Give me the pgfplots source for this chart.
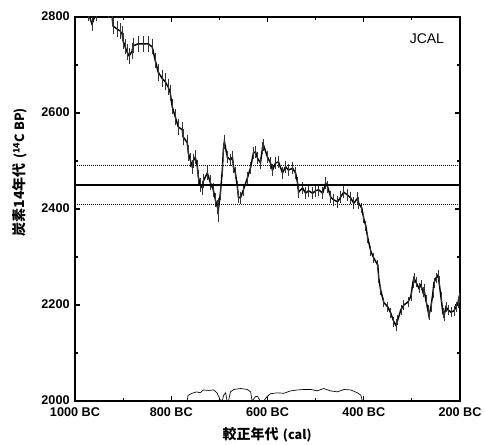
\documentclass[border=0pt]{standalone}
\usepackage{fontspec}
\setmainfont{Liberation Sans}
\newfontfamily\cjk{Noto Sans CJK JP}
\usepackage{pgfplots}
\pgfplotsset{compat=1.18}
\usepackage{pgfplotstable}
\usetikzlibrary{calc}

\pgfplotstableread{
x y e
1000 2830 18
972.9 2810 18
964.6 2785 14
956.3 2810 18
931.3 2815 18
922.9 2800 18
920.8 2781 16
912.5 2775 16
906.3 2771 16
902.1 2765 16
900 2750 16
895.8 2738 16
891.7 2727 16
887.5 2719 16
881.3 2729 16
879.2 2740 16
868.8 2744 16
858.3 2744 16
847.9 2744 16
839.6 2738 16
833.3 2710 16
827.1 2685 18
818.8 2672 18
812.5 2665 18
806.3 2654 16
802.1 2642 16
797.9 2613 16
791.7 2592 16
785.4 2571 16
777.1 2565 16
775 2550 16
766.7 2538 16
764.6 2517 16
760.4 2502 15
756.3 2488 15
754.2 2500 15
750 2508 15
745.8 2488 15
743.8 2467 15
739.6 2450 15
735.4 2444 15
733.3 2458 15
725 2475 15
718.8 2455 15
712.5 2440 15
708.3 2419 15
704.2 2404 15
702.1 2398 25
697.9 2433 15
693.8 2481 15
691.7 2523 15
689.6 2540 15
683.3 2508 12
677.1 2502 12
672.9 2508 12
670.8 2488 12
666.7 2475 12
662.5 2446 12
660.4 2425 12
656.3 2423 12
650 2440 12
641.7 2465 12
635.4 2485 12
629.2 2517 12
625 2519 12
620.8 2506 12
614.6 2496 12
610.4 2527 12
608.3 2533 12
600 2508 12
593.8 2496 12
589.6 2481 12
583.3 2496 12
577.1 2498 12
568.8 2475 12
562.5 2488 12
556.3 2481 12
547.9 2485 12
541.7 2475 12
537.5 2454 12
535.4 2435 12
527.1 2444 12
520.8 2433 12
514.6 2438 12
506.3 2433 12
500 2438 12
493.8 2440 12
485.4 2433 12
479.2 2454 12
475 2446 12
468.8 2425 12
462.5 2419 12
454.2 2415 12
447.9 2425 12
441.7 2435 12
433.3 2429 12
427.1 2423 12
420.8 2412 12
412.5 2423 12
410.4 2412 12
404.2 2402 10
400 2380 10
395.8 2365 10
391.7 2340 10
385.4 2312 10
379.2 2298 10
370.8 2283 10
368.8 2256 10
364.6 2230 10
358.3 2205 10
350 2196 10
343.8 2183 10
337.5 2165 10
333.3 2158 12
329.2 2169 10
322.9 2190 10
316.7 2200 10
308.3 2206 10
302.1 2218 10
297.9 2246 10
295.8 2256 10
291.7 2248 10
285.4 2235 10
281.3 2242 10
277.1 2227 10
275 2233 10
270.8 2210 10
266.7 2190 10
264.6 2178 10
260.4 2196 10
256.3 2225 10
254.2 2246 10
250 2256 10
245.8 2262 10
243.8 2250 10
239.6 2217 10
235.4 2183 10
233.3 2177 10
229.2 2196 10
225 2190 10
218.8 2185 10
212.5 2188 10
208.3 2196 10
204.2 2204 10
202.1 2215 10
200 2210 10
}\curve

\pgfplotstableread{
x v
767 0
765 12
757 16
747 19
740 17
733 23
722 22
712 23
705 17
698 2
694 0
691 12
687 17
684 0
681 0
677 19
670 24
656 26
642 24
635 19
632 0
625 9
621 10
615 0
608 0
601 9
594 15
580 17
566 16
552 21
538 23
524 24
510 24
497 21
483 26
469 21
455 19
441 24
427 23
413 17
406 12
403 0
}\prob

\begin{document}
\begin{tikzpicture}
\begin{axis}[
  name=ax,
  scale only axis,
  width=288.75pt, height=288pt,
  x dir=reverse,
  xmin=200, xmax=1000, ymin=2000, ymax=2800,
  xtick={1000,800,600,400,200},
  xticklabels={1000 BC,800 BC,600 BC,400 BC,200 BC},
  minor xtick={900,700,500,300},
  ytick={2000,2200,2400,2600,2800},
  minor ytick={2100,2300,2500,2700},
  tick align=inside,
  major tick length=3.75pt,
  minor tick length=2pt,
  every tick/.style={black, line width=0.8pt},
  axis line style={line width=1.1pt},
  /pgf/number format/assume math mode=true,
  /pgf/number format/1000 sep={},
  ticklabel style={font=\fontsize{9.5}{10}\selectfont\bfseries},
  xticklabel style={yshift=-1.5pt},
  yticklabel style={yshift=1pt, xshift=-0.5pt},
  xlabel={\cjk\bfseries 較正年代\,{\fontsize{9.5}{10}\selectfont\bfseries\,(cal)}},
  ylabel={\cjk\bfseries 炭素14年代\,{\fontsize{9.5}{10}\selectfont\bfseries\,(\textsuperscript{14}C BP)}},
  label style={font=\fontsize{10.5}{12}\selectfont},
  xlabel style={at={(rel axis cs:0.499,-0.0885)}, anchor=center},
  ylabel style={at={(rel axis cs:-0.143,0.596)}, anchor=center},
  clip=true,
]
% curve with error bars
\addplot[black, line width=1.1pt, mark=none,
  error bars/.cd, y dir=both, y explicit,
  error bar style={black!80, line width=0.5pt}, error mark=none]
  table[x=x, y=y, y error=e]{\curve};
% measured date and its range
\addplot[black, line width=0.8pt] coordinates {(1000,2450) (200,2450)};
\addplot[black, line width=0.5pt, densely dotted] coordinates {(1000,2490) (200,2490)};
\addplot[black, line width=0.5pt, densely dotted] coordinates {(1000,2410) (200,2410)};
% probability distribution
\addplot[black, line width=0.5pt] table[x=x, y expr=2000+\thisrow{v}]{\prob};
\node[font=\fontsize{10.5}{12}\selectfont] at (rel axis cs:0.914,0.943) {JCAL};
\end{axis}
\pgfresetboundingbox
\path[use as bounding box] ($(ax.south west)+(-56.25pt,-33pt)$) rectangle ($(ax.north east)+(18.75pt,12.75pt)$);
\end{tikzpicture}
\end{document}
